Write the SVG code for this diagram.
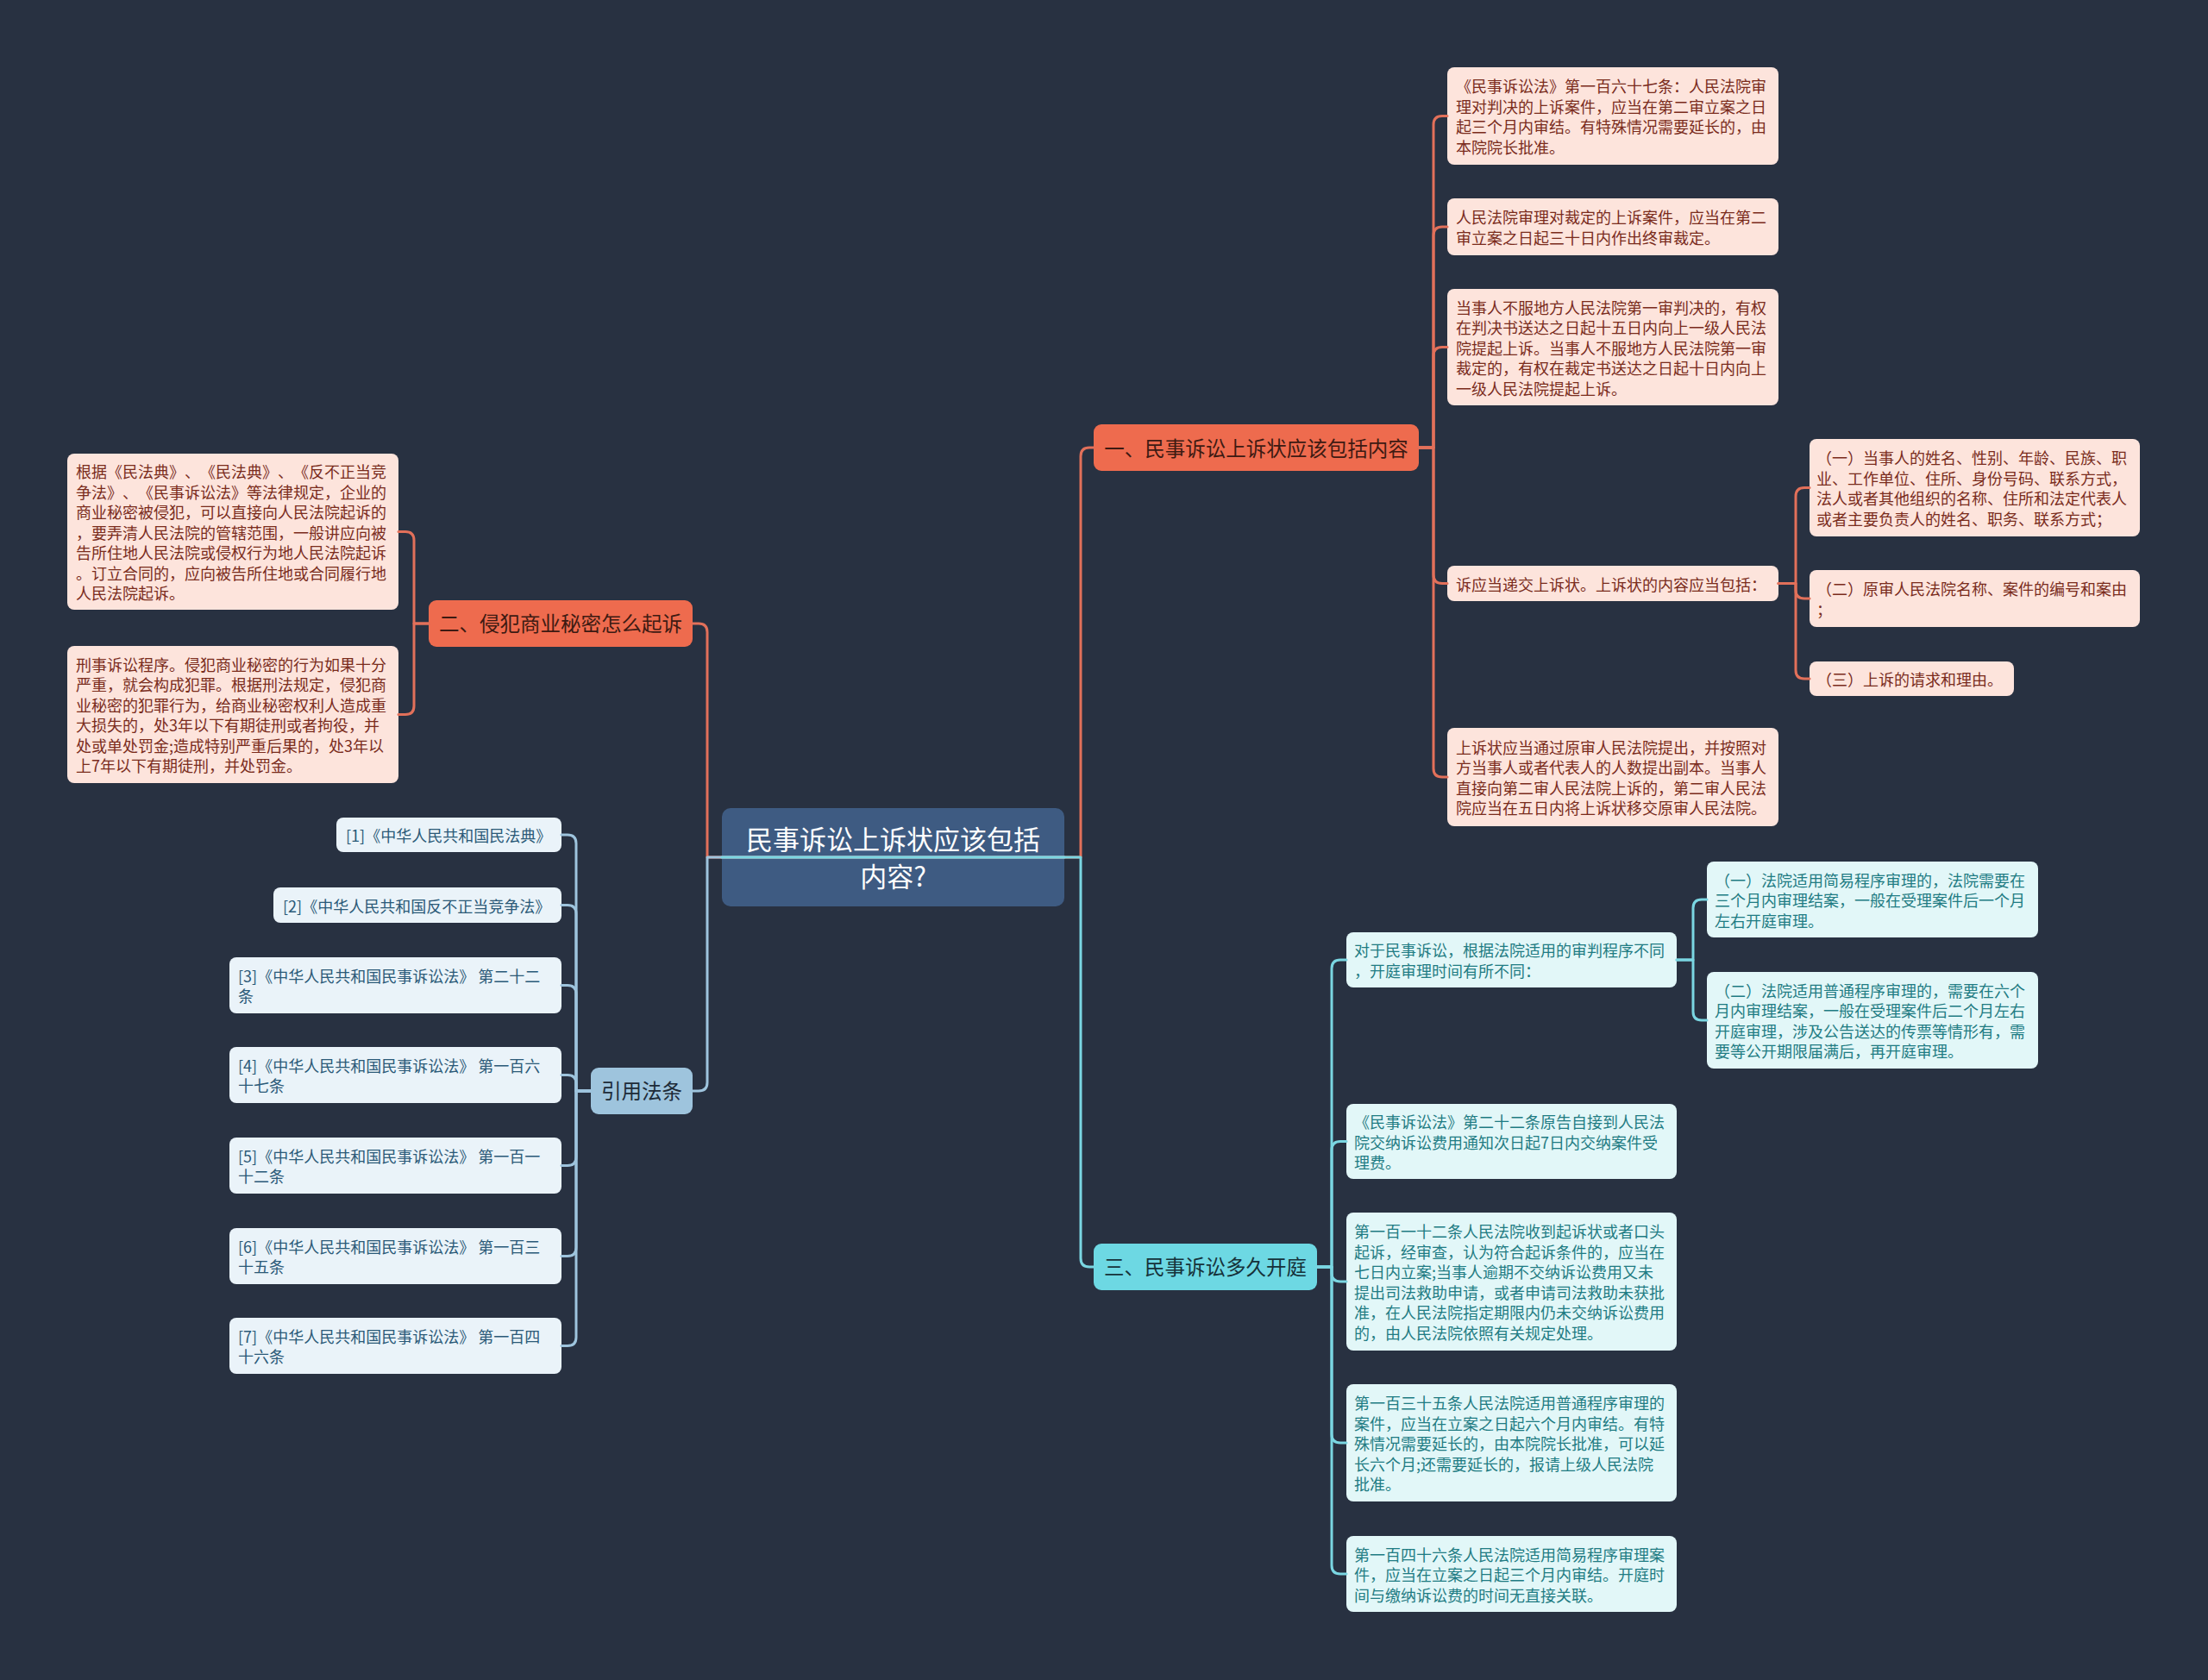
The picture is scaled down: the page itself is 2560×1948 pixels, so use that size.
<svg xmlns="http://www.w3.org/2000/svg" width="2560" height="1948" viewBox="0 0 2560 1948">
<style>
text{font-family:"Noto Sans CJK SC","Noto Sans",sans-serif;dominant-baseline:central;text-spacing-trim:space-all}
.bg{fill:#283141}
.c{fill:none;stroke-width:3;stroke-linejoin:round;stroke-linecap:round}
.cr{stroke:#e2705a}
.cb{stroke:#9ec4dd}
.cc{stroke:#7ad6e2}
.root rect{fill:#3e5b82}
.root text{fill:#ffffff;font-size:31px;text-anchor:middle}
.main text{font-size:23.5px;text-anchor:middle}
.or rect{fill:#ee6b4e}
.or text{fill:#3d1a12}
.cy rect{fill:#6dd8e3}
.cy text{fill:#16323a}
.bl rect{fill:#9ec4dd}
.bl text{fill:#1d2b38}
.leaf text{font-size:18px}
.pr rect{fill:#fde4dc}
.pr text{fill:#7a2c1c}
.lb rect{fill:#eaf3f9}
.lb text{fill:#2b5a78}
.lc rect{fill:#e2f7f8}
.lc text{fill:#1f7c83}
</style>
<rect class="bg" x="0" y="0" width="2560" height="1948"/>

<g id="root" class="root">
<rect x="837" y="937" width="397" height="114" rx="10"/>
<text x="1035.5" y="971">民事诉讼上诉状应该包括</text>
<text x="1035.5" y="1014">内容?</text>
</g>

<g id="n1" class="main or">
<rect x="1268" y="492" width="377" height="54" rx="9"/>
<text x="1456.5" y="519">一、民事诉讼上诉状应该包括内容</text>
</g>
<g id="n2" class="main or">
<rect x="497" y="696" width="306" height="54" rx="9"/>
<text x="650" y="722">二、侵犯商业秘密怎么起诉</text>
</g>
<g id="n3" class="main cy">
<rect x="1268" y="1442" width="259" height="54" rx="9"/>
<text x="1397.5" y="1468">三、民事诉讼多久开庭</text>
</g>
<g id="n4" class="main bl">
<rect x="685" y="1238" width="118" height="54" rx="9"/>
<text x="744" y="1264">引用法条</text>
</g>

<g id="l1" class="leaf pr">
<rect x="1678" y="78" width="384" height="113" rx="8"/>
<text x="1688" y="99.25">《民事诉讼法》第一百六十七条：人民法院审</text>
<text x="1688" y="122.75">理对判决的上诉案件，应当在第二审立案之日</text>
<text x="1688" y="146.25">起三个月内审结。有特殊情况需要延长的，由</text>
<text x="1688" y="169.75">本院院长批准。</text>
</g>
<g id="l2" class="leaf pr">
<rect x="1678" y="230" width="384" height="66" rx="8"/>
<text x="1688" y="251.25">人民法院审理对裁定的上诉案件，应当在第二</text>
<text x="1688" y="274.75">审立案之日起三十日内作出终审裁定。</text>
</g>
<g id="l3" class="leaf pr">
<rect x="1678" y="335" width="384" height="135" rx="8"/>
<text x="1688" y="355.5">当事人不服地方人民法院第一审判决的，有权</text>
<text x="1688" y="379">在判决书送达之日起十五日内向上一级人民法</text>
<text x="1688" y="402.5">院提起上诉。当事人不服地方人民法院第一审</text>
<text x="1688" y="426">裁定的，有权在裁定书送达之日起十日内向上</text>
<text x="1688" y="449.5">一级人民法院提起上诉。</text>
</g>
<g id="l4" class="leaf pr">
<rect x="1678" y="656" width="384" height="41" rx="8"/>
<text x="1688" y="676.5">诉应当递交上诉状。上诉状的内容应当包括：</text>
</g>
<g id="l5" class="leaf pr">
<rect x="1678" y="844" width="384" height="114" rx="8"/>
<text x="1688" y="865.75">上诉状应当通过原审人民法院提出，并按照对</text>
<text x="1688" y="889.25">方当事人或者代表人的人数提出副本。当事人</text>
<text x="1688" y="912.75">直接向第二审人民法院上诉的，第二审人民法</text>
<text x="1688" y="936.25">院应当在五日内将上诉状移交原审人民法院。</text>
</g>
<g id="s1" class="leaf pr">
<rect x="2098" y="509" width="383" height="113" rx="8"/>
<text x="2106" y="530.25">（一）当事人的姓名、性别、年龄、民族、职</text>
<text x="2106" y="553.75">业、工作单位、住所、身份号码、联系方式，</text>
<text x="2106" y="577.25">法人或者其他组织的名称、住所和法定代表人</text>
<text x="2106" y="600.75">或者主要负责人的姓名、职务、联系方式；</text>
</g>
<g id="s2" class="leaf pr">
<rect x="2098" y="661" width="383" height="66" rx="8"/>
<text x="2106" y="682.25">（二）原审人民法院名称、案件的编号和案由</text>
<text x="2106" y="705.75">；</text>
</g>
<g id="s3" class="leaf pr">
<rect x="2098" y="767" width="237" height="40" rx="8"/>
<text x="2106" y="787">（三）上诉的请求和理由。</text>
</g>

<g id="la" class="leaf pr">
<rect x="78" y="526" width="384" height="181" rx="8"/>
<text x="88" y="546">根据《民法典》、《民法典》、《反不正当竞</text>
<text x="88" y="569.5">争法》、《民事诉讼法》等法律规定，企业的</text>
<text x="88" y="593">商业秘密被侵犯，可以直接向人民法院起诉的</text>
<text x="88" y="616.5">，要弄清人民法院的管辖范围，一般讲应向被</text>
<text x="88" y="640">告所住地人民法院或侵权行为地人民法院起诉</text>
<text x="88" y="663.5">。订立合同的，应向被告所住地或合同履行地</text>
<text x="88" y="687">人民法院起诉。</text>
</g>
<g id="lb" class="leaf pr">
<rect x="78" y="749" width="384" height="159" rx="8"/>
<text x="88" y="769.75">刑事诉讼程序。侵犯商业秘密的行为如果十分</text>
<text x="88" y="793.25">严重，就会构成犯罪。根据刑法规定，侵犯商</text>
<text x="88" y="816.75">业秘密的犯罪行为，给商业秘密权利人造成重</text>
<text x="88" y="840.25">大损失的，处3年以下有期徒刑或者拘役，并</text>
<text x="88" y="863.75">处或单处罚金;造成特别严重后果的，处3年以</text>
<text x="88" y="887.25">上7年以下有期徒刑，并处罚金。</text>
</g>

<g id="r1" class="leaf lb">
<rect x="390" y="948" width="261" height="40" rx="8"/>
<text x="401" y="968">[1]《中华人民共和国民法典》</text>
</g>
<g id="r2" class="leaf lb">
<rect x="317" y="1029" width="334" height="41" rx="8"/>
<text x="328" y="1049.5">[2]《中华人民共和国反不正当竞争法》</text>
</g>
<g id="r3" class="leaf lb">
<rect x="266" y="1110" width="385" height="65" rx="8"/>
<text x="276" y="1130.75">[3]《中华人民共和国民事诉讼法》 第二十二</text>
<text x="276" y="1154.25">条</text>
</g>
<g id="r4" class="leaf lb">
<rect x="266" y="1214" width="385" height="65" rx="8"/>
<text x="276" y="1234.75">[4]《中华人民共和国民事诉讼法》 第一百六</text>
<text x="276" y="1258.25">十七条</text>
</g>
<g id="r5" class="leaf lb">
<rect x="266" y="1319" width="385" height="65" rx="8"/>
<text x="276" y="1339.75">[5]《中华人民共和国民事诉讼法》 第一百一</text>
<text x="276" y="1363.25">十二条</text>
</g>
<g id="r6" class="leaf lb">
<rect x="266" y="1424" width="385" height="65" rx="8"/>
<text x="276" y="1444.75">[6]《中华人民共和国民事诉讼法》 第一百三</text>
<text x="276" y="1468.25">十五条</text>
</g>
<g id="r7" class="leaf lb">
<rect x="266" y="1528" width="385" height="65" rx="8"/>
<text x="276" y="1548.75">[7]《中华人民共和国民事诉讼法》 第一百四</text>
<text x="276" y="1572.25">十六条</text>
</g>

<g id="c1" class="leaf lc">
<rect x="1561" y="1081" width="383" height="64" rx="8"/>
<text x="1570" y="1101.25">对于民事诉讼，根据法院适用的审判程序不同</text>
<text x="1570" y="1124.75">，开庭审理时间有所不同：</text>
</g>
<g id="c1a" class="leaf lc">
<rect x="1979" y="999" width="384" height="88" rx="8"/>
<text x="1988" y="1019.5">（一）法院适用简易程序审理的，法院需要在</text>
<text x="1988" y="1043">三个月内审理结案，一般在受理案件后一个月</text>
<text x="1988" y="1066.5">左右开庭审理。</text>
</g>
<g id="c1b" class="leaf lc">
<rect x="1979" y="1127" width="384" height="112" rx="8"/>
<text x="1988" y="1147.75">（二）法院适用普通程序审理的，需要在六个</text>
<text x="1988" y="1171.25">月内审理结案，一般在受理案件后二个月左右</text>
<text x="1988" y="1194.75">开庭审理，涉及公告送达的传票等情形有，需</text>
<text x="1988" y="1218.25">要等公开期限届满后，再开庭审理。</text>
</g>
<g id="c2" class="leaf lc">
<rect x="1561" y="1280" width="383" height="87" rx="8"/>
<text x="1570" y="1300">《民事诉讼法》第二十二条原告自接到人民法</text>
<text x="1570" y="1323.5">院交纳诉讼费用通知次日起7日内交纳案件受</text>
<text x="1570" y="1347">理费。</text>
</g>
<g id="c3" class="leaf lc">
<rect x="1561" y="1406" width="383" height="160" rx="8"/>
<text x="1570" y="1427.25">第一百一十二条人民法院收到起诉状或者口头</text>
<text x="1570" y="1450.75">起诉，经审查，认为符合起诉条件的，应当在</text>
<text x="1570" y="1474.25">七日内立案;当事人逾期不交纳诉讼费用又未</text>
<text x="1570" y="1497.75">提出司法救助申请，或者申请司法救助未获批</text>
<text x="1570" y="1521.25">准，在人民法院指定期限内仍未交纳诉讼费用</text>
<text x="1570" y="1544.75">的，由人民法院依照有关规定处理。</text>
</g>
<g id="c4" class="leaf lc">
<rect x="1561" y="1605" width="383" height="136" rx="8"/>
<text x="1570" y="1626">第一百三十五条人民法院适用普通程序审理的</text>
<text x="1570" y="1649.5">案件，应当在立案之日起六个月内审结。有特</text>
<text x="1570" y="1673">殊情况需要延长的，由本院院长批准，可以延</text>
<text x="1570" y="1696.5">长六个月;还需要延长的，报请上级人民法院</text>
<text x="1570" y="1720">批准。</text>
</g>
<g id="c5" class="leaf lc">
<rect x="1561" y="1781" width="383" height="88" rx="8"/>
<text x="1570" y="1801.5">第一百四十六条人民法院适用简易程序审理案</text>
<text x="1570" y="1825">件，应当在立案之日起三个月内审结。开庭时</text>
<text x="1570" y="1848.5">间与缴纳诉讼费的时间无直接关联。</text>
</g>

<g id="connectors">
<path class="c cr" d="M1035 994 H1253 V529 Q1253 519 1263 519 H1268"/>
<path class="c cr" d="M1035 994 H820 V733 Q820 723 810 723 H803"/>
<path class="c cr" d="M1645 519 H1662 V144.5 Q1662 134.5 1672 134.5 H1678"/>
<path class="c cr" d="M1645 519 H1662 V273 Q1662 263 1672 263 H1678"/>
<path class="c cr" d="M1645 519 H1662 V412.5 Q1662 402.5 1672 402.5 H1678"/>
<path class="c cr" d="M1645 519 H1662 V666.5 Q1662 676.5 1672 676.5 H1678"/>
<path class="c cr" d="M1645 519 H1662 V891 Q1662 901 1672 901 H1678"/>
<path class="c cr" d="M2062 676.5 H2082 V575.5 Q2082 565.5 2092 565.5 H2098"/>
<path class="c cr" d="M2062 676.5 H2082 V684 Q2082 694 2092 694 H2098"/>
<path class="c cr" d="M2062 676.5 H2082 V777 Q2082 787 2092 787 H2098"/>
<path class="c cr" d="M497 723 H480 V626.5 Q480 616.5 470 616.5 H462"/>
<path class="c cr" d="M497 723 H480 V818.5 Q480 828.5 470 828.5 H462"/>
<path class="c cb" d="M1234 994 H820 V1255 Q820 1265 810 1265 H803"/>
<path class="c cb" d="M685 1265 H668 V978 Q668 968 658 968 H651"/>
<path class="c cb" d="M685 1265 H668 V1059.5 Q668 1049.5 658 1049.5 H651"/>
<path class="c cb" d="M685 1265 H668 V1152.5 Q668 1142.5 658 1142.5 H651"/>
<path class="c cb" d="M685 1265 H668 V1256.5 Q668 1246.5 658 1246.5 H651"/>
<path class="c cb" d="M685 1265 H668 V1341.5 Q668 1351.5 658 1351.5 H651"/>
<path class="c cb" d="M685 1265 H668 V1446.5 Q668 1456.5 658 1456.5 H651"/>
<path class="c cb" d="M685 1265 H668 V1550.5 Q668 1560.5 658 1560.5 H651"/>
<path class="c cc" d="M837 994 H1253 V1459 Q1253 1469 1263 1469 H1268"/>
<path class="c cc" d="M1527 1469 H1544 V1123 Q1544 1113 1554 1113 H1561"/>
<path class="c cc" d="M1527 1469 H1544 V1333.5 Q1544 1323.5 1554 1323.5 H1561"/>
<path class="c cc" d="M1527 1469 H1544 V1476 Q1544 1486 1554 1486 H1561"/>
<path class="c cc" d="M1527 1469 H1544 V1663 Q1544 1673 1554 1673 H1561"/>
<path class="c cc" d="M1527 1469 H1544 V1815 Q1544 1825 1554 1825 H1561"/>
<path class="c cc" d="M1944 1113 H1963 V1053 Q1963 1043 1973 1043 H1979"/>
<path class="c cc" d="M1944 1113 H1963 V1173 Q1963 1183 1973 1183 H1979"/>
</g>
</svg>
